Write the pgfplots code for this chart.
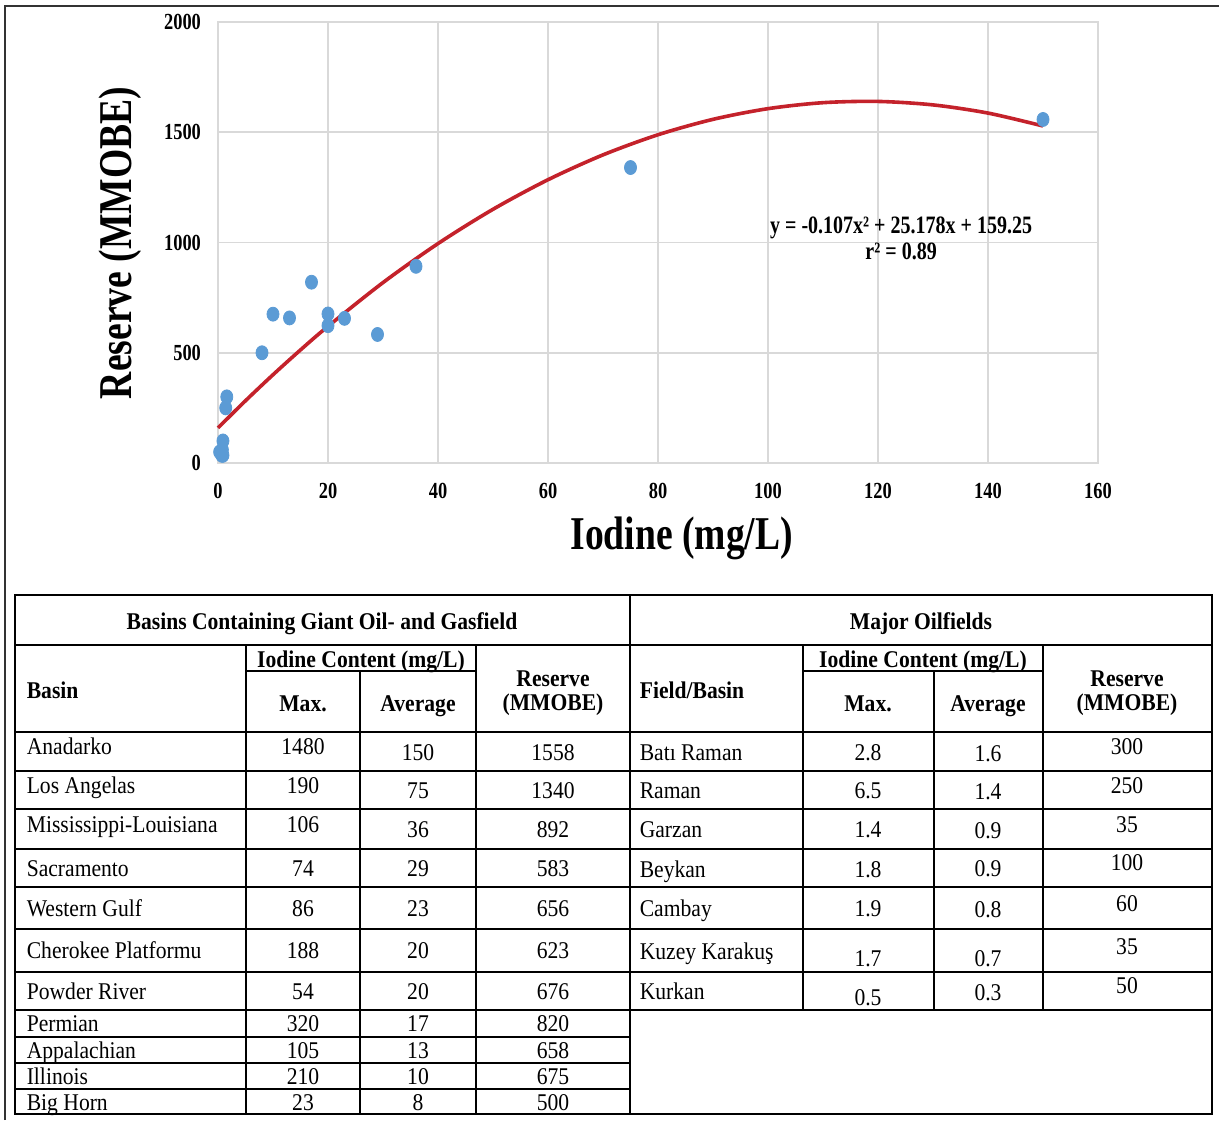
\documentclass[border=0pt]{standalone}
\usepackage{fontspec}
\setmainfont{Liberation Serif}
\newfontfamily\chartfont[FakeStretch=0.8]{Liberation Serif}
\newfontfamily\tabfont[FakeStretch=0.9]{Liberation Serif}
\usepackage{pgfplots}
\pgfplotsset{compat=1.18}
\definecolor{ptblue}{HTML}{5B9BD5}
\definecolor{fitred}{HTML}{C4222B}
\definecolor{gridgray}{HTML}{D9D9D9}
\newcommand{\TC}[3]{\node[anchor=base] at (#1,#2+8) {#3};}
\newcommand{\TL}[3]{\node[anchor=base west] at (#1,#2+8) {#3};}
\begin{document}
\begin{tikzpicture}
\begin{scope}[x=0.5pt,y=-0.5pt]
\path[use as bounding box] (0,0) rectangle (1219,1120);
\fill[white] (0,0) rectangle (1219,1120);
\draw[line width=0.8pt, black!80] (5,1120) -- (5,6) -- (1219,6);
\end{scope}

\begin{axis}[
  at={(109pt,-231.5pt)}, anchor=south west,
  scale only axis, width=440pt, height=220.5pt,
  xmin=0, xmax=160, ymin=0, ymax=2000,
  xtick={0,20,...,160}, ytick={0,500,...,2000},
  grid=major, major grid style={draw=gridgray, line width=0.8pt},
  axis line style={draw=gridgray, line width=0.8pt},
  major tick length=0pt,
  clip=false,
  tick label style={font=\chartfont\fontsize{11.5pt}{12pt}\selectfont\bfseries},
  /pgf/number format/assume math mode=true,
  /pgf/number format/1000 sep={},
  xticklabel style={yshift=-6.5pt},
  yticklabel style={xshift=-5pt},
  xlabel={Iodine (mg/L)},
  ylabel={Reserve (MMOBE)},
  xlabel style={at={(axis description cs:0.527,-0.172)}, anchor=center, font=\chartfont\fontsize{23.5pt}{24pt}\selectfont\bfseries},
  ylabel style={at={(axis description cs:-0.1110,0.499)}, anchor=center, font=\chartfont\fontsize{23.5pt}{24pt}\selectfont\bfseries},
]
\addplot[only marks, mark=*, mark size=3.5pt, mark options={fill=ptblue, draw=ptblue, xscale=0.86}] coordinates {
(150,1558) (75,1340) (36,892) (29,583) (23,656) (20,623) (20,676) (17,820) (13,658) (10,675) (8,500)
(1.6,300) (1.4,250) (0.9,35) (0.9,100) (0.8,60) (0.7,35) (0.3,50)
};
\addplot[fitred, line width=1.8pt, smooth, no marks] coordinates {
(0,159.25) (5,282.47) (10,400.33) (15,512.85) (20,620.01) (30,818.29) (40,995.17) (50,1150.65) (60,1284.73)
(70,1397.41) (80,1488.69) (90,1558.57) (100,1607.05) (110,1634.13) (120,1639.81)
(130,1624.09) (140,1586.97) (150,1528.45)
};
\node[font=\chartfont\fontsize{12.5pt}{13pt}\selectfont\bfseries, align=center] at (axis cs:124.2,1020)
  {y = -0.107x² + 25.178x + 159.25\\r² = 0.89};
\end{axis}

\begin{scope}[x=0.5pt,y=-0.5pt, line width=0.8pt, every node/.style={inner sep=0pt, font=\tabfont\fontsize{12pt}{14pt}\selectfont}]
\draw (15,595) rectangle (1212,1114);
\draw (15,645) -- (1212,645);
\draw (246,671) -- (476,671);
\draw (803,671) -- (1043,671);
\foreach \yy in {732,771,809,849,887,929,972,1010} {\draw (15,\yy) -- (1212,\yy);}
\foreach \yy in {1037,1063,1089} {\draw (15,\yy) -- (630,\yy);}
\draw (630,595) -- (630,1114);
\draw (246,645) -- (246,1114);
\draw (360,671) -- (360,1114);
\draw (476,645) -- (476,1114);
\draw (803,645) -- (803,1010);
\draw (934,671) -- (934,1010);
\draw (1043,645) -- (1043,1010);
% headers
\TC{322}{621}{\bfseries Basins Containing Giant Oil- and Gasfield}
\TC{921}{621}{\bfseries Major Oilfields}
\TL{26}{690}{\bfseries Basin}
\TC{361}{659}{\bfseries Iodine Content (mg/L)}
\TC{303}{703}{\bfseries Max.}
\TC{418}{703}{\bfseries Average}
\TC{553}{678}{\bfseries Reserve}
\TC{553}{702}{\bfseries (MMOBE)}
\TL{639}{690}{\bfseries Field/Basin}
\TC{923}{659}{\bfseries Iodine Content (mg/L)}
\TC{868}{703}{\bfseries Max.}
\TC{988}{703}{\bfseries Average}
\TC{1127}{678}{\bfseries Reserve}
\TC{1127}{702}{\bfseries (MMOBE)}
% left table
\TL{26}{746}{Anadarko} \TC{303}{746}{1480} \TC{418}{752}{150} \TC{553}{752}{1558}
\TL{26}{785}{Los Angelas} \TC{303}{785}{190} \TC{418}{790}{75} \TC{553}{790}{1340}
\TL{26}{824}{Mississippi-Louisiana} \TC{303}{824}{106} \TC{418}{829}{36} \TC{553}{829}{892}
\TL{26}{868}{Sacramento} \TC{303}{868}{74} \TC{418}{868}{29} \TC{553}{868}{583}
\TL{26}{908}{Western Gulf} \TC{303}{908}{86} \TC{418}{908}{23} \TC{553}{908}{656}
\TL{26}{950}{Cherokee Platformu} \TC{303}{950}{188} \TC{418}{950}{20} \TC{553}{950}{623}
\TL{26}{991}{Powder River} \TC{303}{991}{54} \TC{418}{991}{20} \TC{553}{991}{676}
\TL{26}{1023}{Permian} \TC{303}{1023}{320} \TC{418}{1023}{17} \TC{553}{1023}{820}
\TL{26}{1050}{Appalachian} \TC{303}{1050}{105} \TC{418}{1050}{13} \TC{553}{1050}{658}
\TL{26}{1076}{Illinois} \TC{303}{1076}{210} \TC{418}{1076}{10} \TC{553}{1076}{675}
\TL{26}{1102}{Big Horn} \TC{303}{1102}{23} \TC{418}{1102}{8} \TC{553}{1102}{500}
% right table
\TL{639}{752}{Batı Raman} \TC{868}{752}{2.8} \TC{988}{753}{1.6} \TC{1127}{746}{300}
\TL{639}{790}{Raman} \TC{868}{790}{6.5} \TC{988}{791}{1.4} \TC{1127}{785}{250}
\TL{639}{829}{Garzan} \TC{868}{829}{1.4} \TC{988}{830}{0.9} \TC{1127}{824}{35}
\TL{639}{869}{Beykan} \TC{868}{869}{1.8} \TC{988}{868}{0.9} \TC{1127}{862}{100}
\TL{639}{908}{Cambay} \TC{868}{908}{1.9} \TC{988}{909}{0.8} \TC{1127}{903}{60}
\TL{639}{951}{Kuzey Karakuş} \TC{868}{958}{1.7} \TC{988}{958}{0.7} \TC{1127}{946}{35}
\TL{639}{991}{Kurkan} \TC{868}{997}{0.5} \TC{988}{992}{0.3} \TC{1127}{985}{50}
\end{scope}
\end{tikzpicture}
\end{document}
